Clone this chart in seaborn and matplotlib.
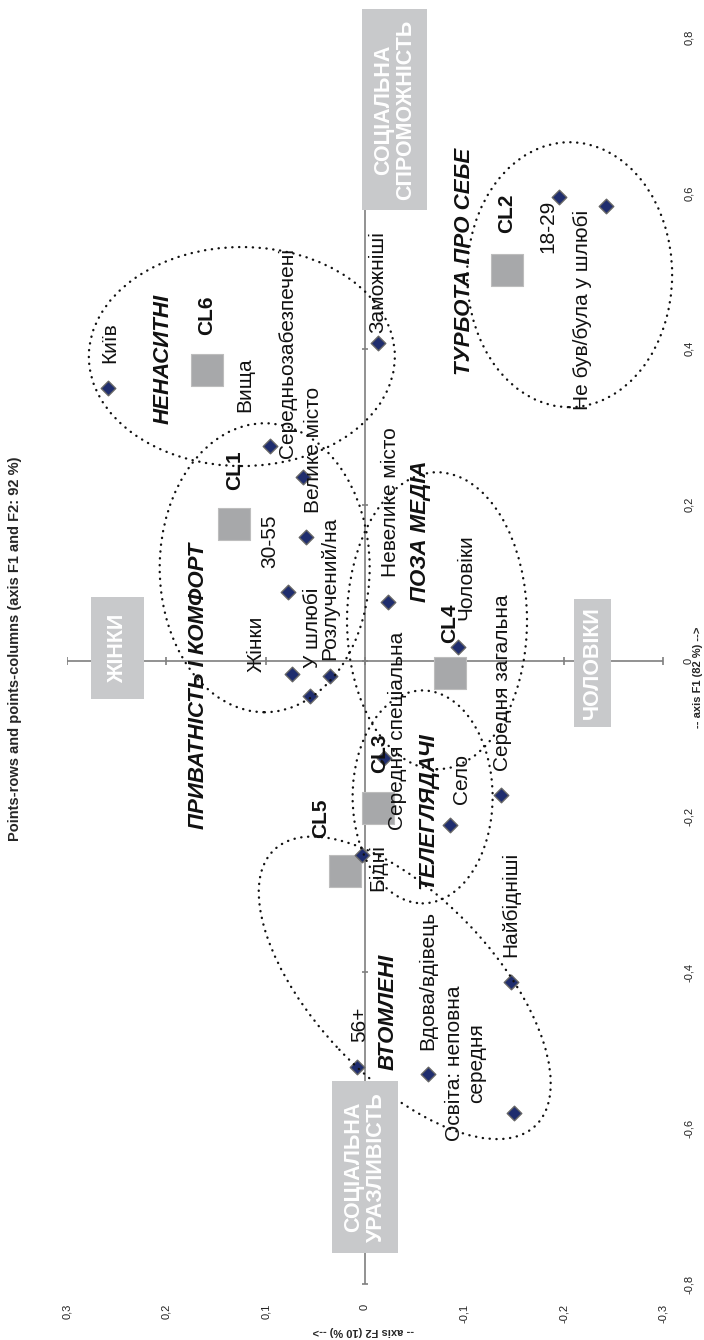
import pandas as pd
import seaborn as sns
import matplotlib.pyplot as plt
import matplotlib.transforms as mtransforms
from matplotlib.patches import Ellipse

# Points (rows and columns) on axis F1 and F2
point_labels = ["Київ", "Вища", "Середньозабезпечені", "Велике місто", "30-55",
                "Жінки", "У шлюбі", "Розлучений/на", "Невелике місто", "Заможніші",
                "18-29", "Не був/була у шлюбі", "Чоловіки", "Середня спеціальна",
                "Село", "Середня загальна", "Бідні", "Найбідніші", "56+",
                "Вдова/вдівець", "Освіта: неповна\nсередня"]
point_f1 = [0.350, 0.275, 0.236, 0.159, 0.088, -0.017, -0.046, -0.020, 0.075, 0.408,
            0.595, 0.583, 0.017, -0.125, -0.211, -0.173, -0.250, -0.413, -0.522,
            -0.531, -0.580]
point_f2 = [0.259, 0.096, 0.062, 0.059, 0.078, 0.073, 0.055, 0.035, -0.023, -0.013,
            -0.195, -0.243, -0.094, -0.019, -0.086, -0.137, 0.003, -0.147, 0.008,
            -0.063, -0.150]

# Cluster centres
cluster_names = ["CL1", "CL2", "CL3", "CL4", "CL5", "CL6"]
cluster_f1 = [0.175, 0.501, -0.189, -0.016, -0.270, 0.373]
cluster_f2 = [0.132, -0.143, -0.013, -0.086, 0.020, 0.159]

f1_ticks = [-0.8, -0.6, -0.4, -0.2, 0, 0.2, 0.4, 0.6, 0.8]
f2_ticks = [-0.3, -0.2, -0.1, 0, 0.1, 0.2, 0.3]

# label offsets in pixels (rotated picture), kept apart from the data
point_offsets = [(2, 25), (-25, 34), (-16, 19), (7, 24), (-18, 24), (-36, 2), (2, 28),
                 (0, 16), (3, 25), (0, 10), (-11, -56), (-24, -204), (8, 27),
                 (14, -72), (11, 21), (1, 24), (16, -36), (0, 25), (3, 25), (0, 24),
                 (-48, 49)]
cluster_offsets = [(1, 34), (0, 37), (2, 35), (-1, 30), (-25, 33), (0, 35)]

# cluster names: text, F2, F1
group_names = [("НЕНАСИТНІ", 0.203, 0.387),
               ("ПРИВАТНІСТЬ І КОМФОРТ", 0.168, -0.033),
               ("ПОЗА МЕДІА", -0.056, 0.166),
               ("ТЕЛЕГЛЯДАЧІ", -0.063, -0.192),
               ("ВТОМЛЕНІ", -0.023, -0.451),
               ("ТУРБОТА ПРО СЕБЕ", -0.100, 0.512)]

# grey boxes: text, F2, F1, pad
axis_boxes = [("ЖІНКИ", 0.249, 0.016, 0.75),
              ("ЧОЛОВІКИ", -0.229, -0.003, 0.35),
              ("СОЦІАЛЬНА\nСПРОМОЖНІСТЬ", -0.030, 0.707, 0.5),
              ("СОЦІАЛЬНА\nУРАЗЛИВІСТЬ", 0.0, -0.650, 0.5)]

# dotted ellipses: centre F2, centre F1, width px, height px, angle
ellipses = [(0.124, 0.390, 306, 219, 0),
            (0.101, 0.119, 210, 289, 0),
            (-0.0725, 0.051, 180, 297, 0),
            (-0.058, -0.175, 140, 213, 0),
            (-0.040, -0.420, 380, 180, -46.6),
            (-0.206, 0.495, 205, 265, 0)]

sns.set_style("white")
plt.rcParams["font.family"] = ["Liberation Sans", "DejaVu Sans"]

fig = plt.figure(figsize=(7.04, 13.40), dpi=100)
ax = fig.add_axes([67 / 704, 56 / 1340, 596 / 704, 1247 / 1340])
ax.set_xlim(0.3, -0.3)
ax.set_ylim(-0.8, 0.8)
sns.despine(ax=ax, left=True, bottom=True)

# crosshair axes through the origin
axis_col = "#7f7f7f"
ax.plot([f2_ticks[0], f2_ticks[-1]], [0, 0], color=axis_col, lw=1.2, zorder=1)
ax.plot([0, 0], [f1_ticks[0], f1_ticks[-1]], color=axis_col, lw=1.2, zorder=1)
ax.plot(f2_ticks, [0] * len(f2_ticks), ls="none", marker="|", ms=6, mew=1.2,
        color=axis_col, zorder=1)
ax.plot([0] * len(f1_ticks), f1_ticks, ls="none", marker="_", ms=5, mew=1.2,
        color=axis_col, zorder=1)

ax.set_xticks(f2_ticks)
ax.set_xticklabels([f"{v:g}".replace(".", ",") for v in f2_ticks])
ax.yaxis.tick_right()
ax.set_yticks(f1_ticks)
ax.set_yticklabels([f"{v:g}".replace(".", ",") for v in f1_ticks])
ax.tick_params(axis="x", length=0, pad=14, labelsize=8, labelrotation=90,
               colors="#222222")
ax.tick_params(axis="y", length=0, pad=15, labelsize=8, labelrotation=90,
               colors="#222222")
for lbl in ax.get_yticklabels():
    lbl.set_va("center")
ax.grid(False)

points = pd.DataFrame({"F1": point_f1, "F2": point_f2, "label": point_labels})
clusters = pd.DataFrame({"F1": cluster_f1, "F2": cluster_f2, "name": cluster_names})

sns.scatterplot(data=clusters, x="F2", y="F1", marker="s", s=560, color="#a7a8aa",
                edgecolor="#bdbdbd", linewidth=0.8, ax=ax, zorder=2)
sns.scatterplot(data=points, x="F2", y="F1", marker="D", s=55, color="#1f2d6e",
                edgecolor="#666666", linewidth=1.0, ax=ax, zorder=3)
ax.set_xlabel("")
ax.set_ylabel("")

for (_, row), (dx, dy) in zip(points.iterrows(), point_offsets):
    va = "center" if "\n" in row["label"] else "bottom"
    ax.annotate(row["label"], (row["F2"], row["F1"]), xytext=(dx, dy),
                textcoords="offset pixels", rotation=90, ha="center", va=va,
                multialignment="center", fontsize=15, color="#111111", zorder=4)

for (_, row), (dx, dy) in zip(clusters.iterrows(), cluster_offsets):
    ax.annotate(row["name"], (row["F2"], row["F1"]), xytext=(dx, dy),
                textcoords="offset pixels", rotation=90, ha="center", va="bottom",
                fontsize=15, fontweight="bold", color="#111111", zorder=4)

for text, x, y in group_names:
    ax.text(x, y, text, rotation=90, ha="center", va="center", fontsize=16,
            fontweight="bold", fontstyle="italic", color="#111111", zorder=4)

for text, x, y, pad in axis_boxes:
    ax.text(x, y, text, rotation=90, ha="center", va="center", fontsize=15.5,
            fontweight="bold", color="white", linespacing=1.1,
            multialignment="center", clip_on=False, zorder=6,
            bbox=dict(boxstyle=f"square,pad={pad}", fc="#c8c9cb", ec="none"))

for cx, cy, w, h, ang in ellipses:
    trans = mtransforms.Affine2D() + mtransforms.ScaledTranslation(cx, cy, ax.transData)
    e = Ellipse((0, 0), w, h, angle=ang, transform=trans, fill=False,
                ec="#111111", lw=1.7, ls=(0, (0.1, 2.8)), zorder=5, clip_on=False)
    e.set_capstyle("round")
    ax.add_patch(e)

fig.text(15 / 704, 1 - 649 / 1340,
         "Points-rows and points-columns (axis F1 and F2: 92 %)",
         rotation=90, ha="center", va="center", fontsize=10.5, fontweight="bold")
fig.text(698 / 704, 1 - 677 / 1340, "-- axis F1 (82 %) -->", rotation=90,
         ha="center", va="center", fontsize=8, fontweight="bold")
fig.text(363 / 704, 1 - 1331 / 1340, "-- axis F2 (10 %) -->", rotation=180,
         ha="center", va="center", fontsize=8, fontweight="bold")

fig.savefig("out.png", dpi=100)
